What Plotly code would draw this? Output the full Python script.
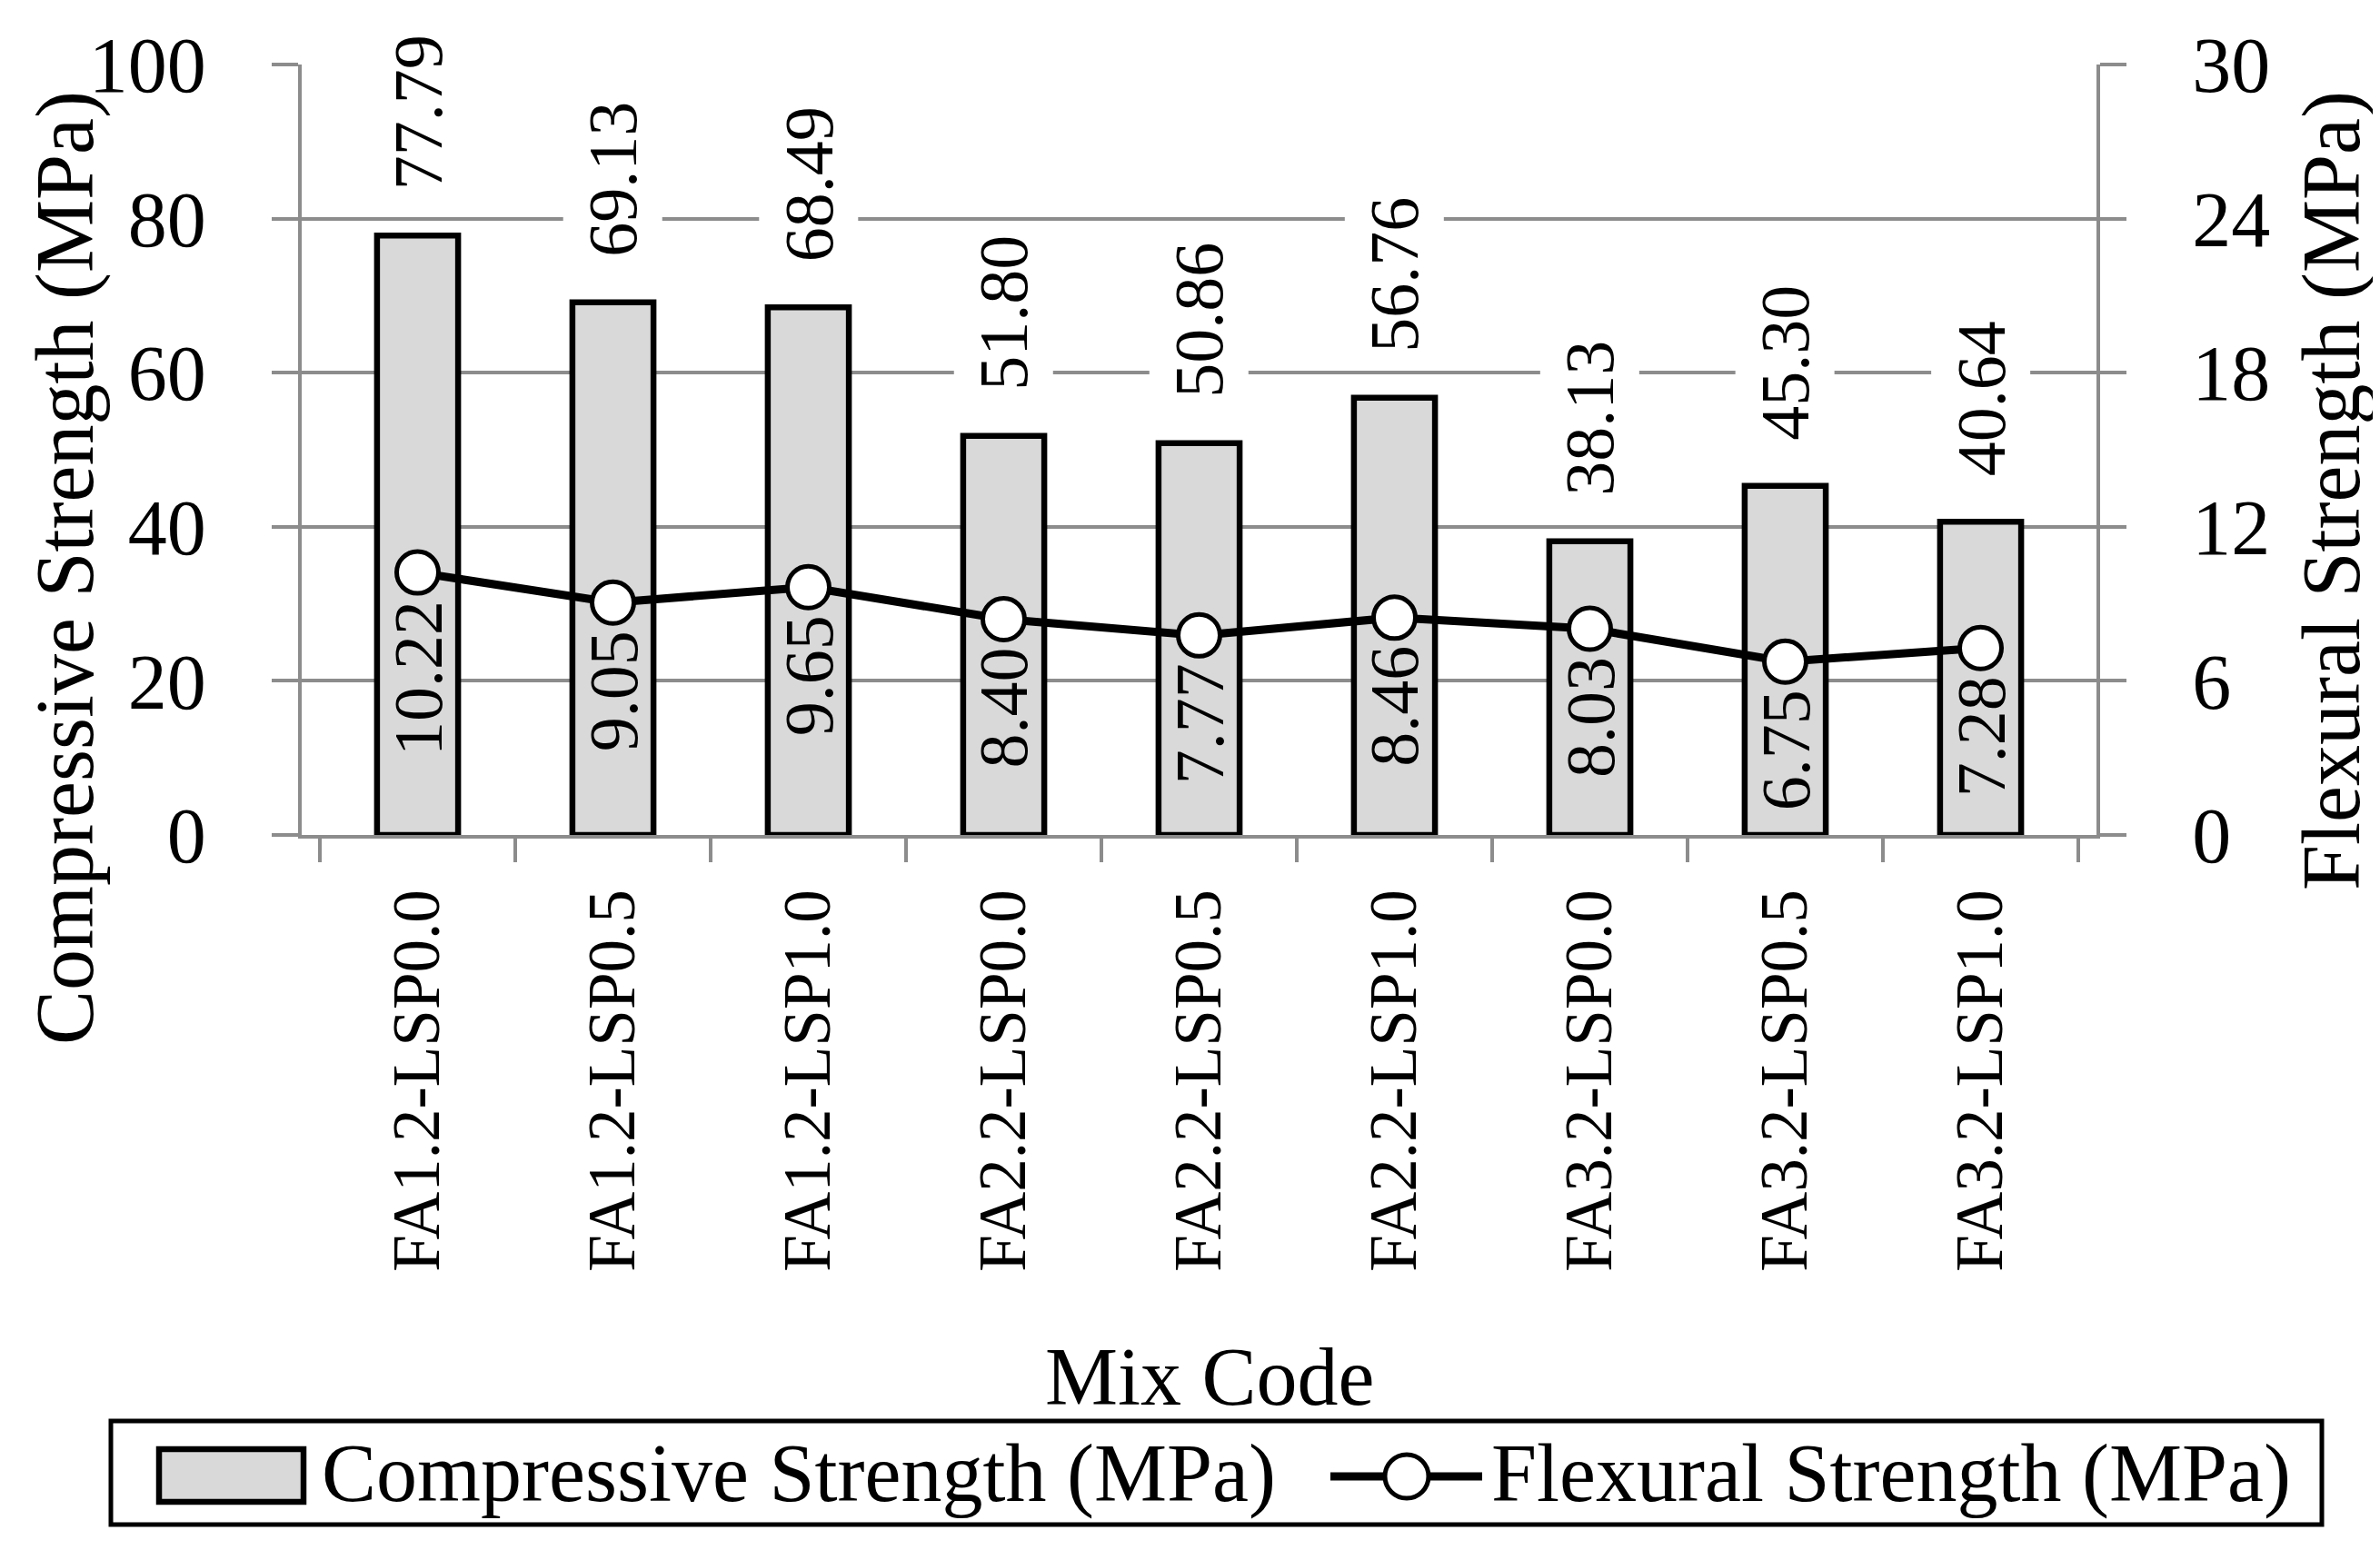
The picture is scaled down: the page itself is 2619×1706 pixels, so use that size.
import plotly.graph_objects as go

categories = ["FA1.2-LSP0.0", "FA1.2-LSP0.5", "FA1.2-LSP1.0",
              "FA2.2-LSP0.0", "FA2.2-LSP0.5", "FA2.2-LSP1.0",
              "FA3.2-LSP0.0", "FA3.2-LSP0.5", "FA3.2-LSP1.0"]
compressive = [77.79, 69.13, 68.49, 51.80, 50.86, 56.76, 38.13, 45.30, 40.64]
flexural = [10.22, 9.05, 9.65, 8.40, 7.77, 8.46, 8.03, 6.75, 7.28]
left_ticks = [0, 20, 40, 60, 80, 100]
right_ticks = [0, 6, 12, 18, 24, 30]

W, H = 2619, 1706
L, R, T, B = 324, 2299, 63, 911
FONT = "Liberation Serif"
GRAY = "#8c8c8c"


def px(x):
    return (x - L) / (R - L)


def py(y):
    return (B - y) / (B - T)


fig = go.Figure()
fig.add_trace(go.Bar(
    x=categories, y=compressive, name="Compressive Strength (MPa)",
    marker=dict(color="#d9d9d9", line=dict(color="black", width=6.5)),
    width=0.415, yaxis="y"))
fig.add_trace(go.Scatter(
    x=categories, y=flexural, name="Flexural Strength (MPa)", yaxis="y2",
    mode="lines+markers",
    line=dict(color="black", width=9),
    marker=dict(symbol="circle", size=46, color="white",
                line=dict(color="black", width=5))))

annotations = []
for c, v in zip(categories, compressive):
    annotations.append(dict(
        x=c, y=v, xref="x", yref="y", text=f"{v:.2f}", showarrow=False,
        textangle=-90, yanchor="bottom", xanchor="center", yshift=37,
        bgcolor="white", borderpad=12,
        font=dict(family=FONT, size=76, color="black")))
for c, v in zip(categories, flexural):
    annotations.append(dict(
        x=c, y=v, xref="x", yref="y2", text=f"{v:.2f}", showarrow=False,
        textangle=-90, yanchor="top", xanchor="center", yshift=-29,
        font=dict(family=FONT, size=76, color="black")))

# axis titles
annotations.append(dict(x=px(64), y=py(90), xref="paper", yref="paper",
                        text="Compressive Strength (MPa)", showarrow=False,
                        textangle=-90, xanchor="center", yanchor="top",
                        font=dict(family=FONT, size=90, color="black")))
annotations.append(dict(x=px(2558), y=py(90), xref="paper", yref="paper",
                        text="Flexural Strength (MPa)", showarrow=False,
                        textangle=-90, xanchor="center", yanchor="top",
                        font=dict(family=FONT, size=90, color="black")))
annotations.append(dict(x=px(1323), y=py(1508), xref="paper", yref="paper",
                        text="Mix Code", showarrow=False,
                        xanchor="center", yanchor="middle",
                        font=dict(family=FONT, size=90, color="black")))

# custom legend
annotations.append(dict(x=px(344), y=py(1614), xref="paper", yref="paper",
                        text="Compressive Strength (MPa)", showarrow=False,
                        xanchor="left", yanchor="middle",
                        font=dict(family=FONT, size=90, color="black")))
annotations.append(dict(x=px(1631), y=py(1614), xref="paper", yref="paper",
                        text="Flexural Strength (MPa)", showarrow=False,
                        xanchor="left", yanchor="middle",
                        font=dict(family=FONT, size=90, color="black")))

shapes = [
    dict(type="rect", xref="paper", yref="paper",
         x0=px(114), x1=px(2547), y0=py(1670), y1=py(1556),
         line=dict(color="black", width=5), fillcolor="white", layer="below"),
    dict(type="rect", xref="paper", yref="paper",
         x0=px(167), x1=px(326), y0=py(1645), y1=py(1587),
         line=dict(color="black", width=6.5), fillcolor="#d9d9d9"),
    dict(type="line", xref="paper", yref="paper",
         x0=px(1456), x1=px(1623), y0=py(1617), y1=py(1617),
         line=dict(color="black", width=9)),
    dict(type="circle", xref="paper", yref="paper",
         x0=px(1516), x1=px(1564), y0=py(1641), y1=py(1593),
         line=dict(color="black", width=5), fillcolor="white"),
]

fig.update_layout(
    width=W, height=H,
    margin=dict(l=L, r=W - R, t=T, b=H - B),
    paper_bgcolor="white", plot_bgcolor="white",
    showlegend=False,
    font=dict(family=FONT, color="black"),
    xaxis=dict(
        type="category", tickson="boundaries", ticks="outside", ticklen=26,
        tickwidth=4, tickcolor=GRAY, showline=True, linecolor=GRAY,
        linewidth=4, showgrid=False, tickangle=-90,
        tickfont=dict(family=FONT, size=73, color="black"),
        ticklabelstandoff=27),
    yaxis=dict(
        range=[0, 100], tickvals=left_ticks, ticks="outside", ticklen=29,
        tickwidth=4, tickcolor=GRAY, showline=True, linecolor=GRAY,
        linewidth=4, showgrid=True, gridcolor=GRAY, gridwidth=4,
        zeroline=False, tickfont=dict(family=FONT, size=86, color="black"),
        ticklabelstandoff=55),
    yaxis2=dict(
        range=[0, 30], tickvals=right_ticks, overlaying="y", side="right",
        ticks="outside", ticklen=29, tickwidth=4, tickcolor=GRAY,
        showline=True, linecolor=GRAY, linewidth=4, showgrid=False,
        zeroline=False, tickfont=dict(family=FONT, size=86, color="black"),
        ticklabelstandoff=55),
    annotations=annotations, shapes=shapes,
)

fig.write_html("out.html")
